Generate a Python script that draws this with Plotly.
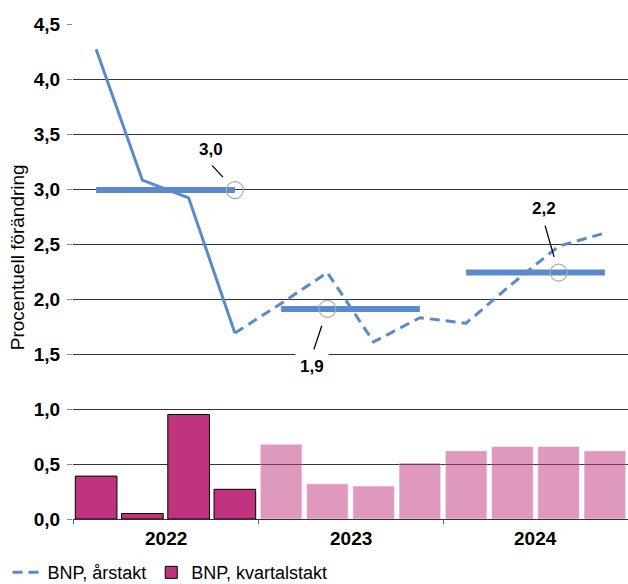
import plotly.graph_objects as go
import numpy as np

# ---- data ----
quarters = ["2022 K1", "2022 K2", "2022 K3", "2022 K4",
            "2023 K1", "2023 K2", "2023 K3", "2023 K4",
            "2024 K1", "2024 K2", "2024 K3", "2024 K4"]
years = ["2022", "2023", "2024"]
kvartalstakt = [0.39, 0.05, 0.95, 0.27, 0.68, 0.32, 0.30, 0.51, 0.62, 0.66, 0.66, 0.62]
arstakt_kv = [4.27, 3.08, 2.92, 1.69, 1.96, 2.24, 1.61, 1.83, 1.78, 2.14, 2.48, 2.60]
n_outcome = 4  # quarters with outcome; rest is forecast
annual = [2.99, 1.91, 2.24]
annual_labels = ["3,0", "1,9", "2,2"]
label_quarter = [3, 5, 10]  # quarter where each annual value is marked

BLUE = "#5A8ACB"
MAGENTA = "#C0347F"
FONT = "Arial, Liberation Sans, sans-serif"

x = np.arange(len(quarters)) + 0.5
fig = go.Figure()

# bars: outcome
fig.add_trace(go.Bar(
    x=x[:n_outcome], y=kvartalstakt[:n_outcome], width=0.9,
    marker=dict(color=MAGENTA, line=dict(color="black", width=1)),
    name="BNP, kvartalstakt", showlegend=True))
# bars: forecast (translucent)
fig.add_trace(go.Bar(
    x=x[n_outcome:], y=kvartalstakt[n_outcome:], width=0.9,
    marker=dict(color=MAGENTA, opacity=0.5, line=dict(color="white", width=0.5)),
    name="BNP, kvartalstakt (prognos)", showlegend=False))

# annual-rate lines
fig.add_trace(go.Scatter(
    x=x[:n_outcome], y=arstakt_kv[:n_outcome], mode="lines",
    line=dict(color=BLUE, width=3), showlegend=False, name="BNP, årstakt"))
fig.add_trace(go.Scatter(
    x=x[n_outcome - 1:], y=arstakt_kv[n_outcome - 1:], mode="lines",
    line=dict(color=BLUE, width=3, dash="10px,6px"), showlegend=True, name="BNP, årstakt"))

# annual averages
for k, val in enumerate(annual):
    xs = x[4 * k:4 * k + 4]
    fig.add_trace(go.Scatter(
        x=[xs[0], xs[-1]], y=[val, val], mode="lines",
        line=dict(color=BLUE, width=6), showlegend=False, hoverinfo="skip"))

# circles
fig.add_trace(go.Scatter(
    x=[x[q] for q in label_quarter], y=annual, mode="markers",
    marker=dict(symbol="circle-open", size=17, color="#AAAAAA", line=dict(width=1.2)),
    showlegend=False, hoverinfo="skip"))

# labels + leader lines (pixel offsets)
label_offsets = [(-24, 41), (-15, -58), (-15, 64.5)]
leader_tails = [(-24, -26), (-14, 42), (-14, -48.5)]
leader_standoff = [17.7, 17.7, 16.3]
annotations = []
for k in range(3):
    px, py = x[label_quarter[k]], annual[k]
    annotations.append(dict(
        x=px, y=py, xref="x", yref="y", text="<b>%s</b>" % annual_labels[k],
        showarrow=False, xshift=label_offsets[k][0], yshift=label_offsets[k][1],
        xanchor="center", yanchor="middle",
        bgcolor="white", borderpad=4, font=dict(family=FONT, size=17, color="black")))
    annotations.append(dict(
        x=px, y=py, xref="x", yref="y", text="", showarrow=True,
        ax=leader_tails[k][0], ay=leader_tails[k][1], axref="pixel", ayref="pixel",
        arrowhead=0, arrowwidth=1.3, arrowcolor="black", standoff=leader_standoff[k]))

# year labels under axis
for k, yr in enumerate(years):
    annotations.append(dict(
        x=4 * k + 2, y=0, xref="x", yref="y", text="<b>%s</b>" % yr, showarrow=False,
        xanchor="center", yanchor="middle",
        yshift=-19, font=dict(family=FONT, size=19, color="black")))

# y-axis title
annotations.append(dict(
    x=0, xref="paper", xshift=-56, y=2.38, yref="y", text="Procentuell förändring",
    xanchor="center", yanchor="middle",
    textangle=-90, showarrow=False, font=dict(family=FONT, size=19, color="black")))

fig.update_layout(
    width=628, height=584,
    margin=dict(l=73, r=0, t=24, b=65, autoexpand=False),
    plot_bgcolor="white", paper_bgcolor="white",
    separators=", ",
    barmode="overlay",
    font=dict(family=FONT, color="black"),
    annotations=annotations,
    legend=dict(orientation="h", x=-0.118, xanchor="left", y=-0.071, yanchor="top",
                font=dict(family=FONT, size=18, color="black"),
                itemwidth=30, tracegroupgap=0, traceorder="reversed",
                bgcolor="rgba(0,0,0,0)"),
    xaxis=dict(range=[0, 12], showgrid=False, zeroline=False,
               tickvals=[0, 4, 8, 12], ticktext=["", "", "", ""],
               ticks="outside", ticklen=4, tickcolor="#666",
               showline=False, fixedrange=True),
    yaxis=dict(range=[0, 4.5], dtick=0.5, tick0=0, tickformat=".1f",
               showgrid=True, gridcolor="#333", gridwidth=1,
               zeroline=True, zerolinecolor="#333", zerolinewidth=1,
               ticks="outside", ticklen=5, tickcolor="#888",
               ticklabelstandoff=3,
               tickfont=dict(family=FONT, size=19, color="black", weight="bold"),
               showline=False, fixedrange=True),
)

fig.write_html("out.html")
